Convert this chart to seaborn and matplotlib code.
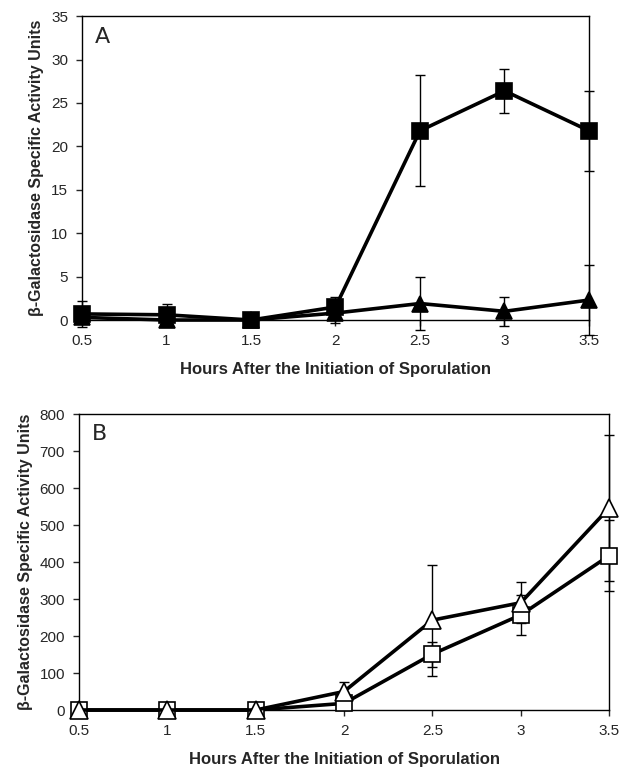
import matplotlib
matplotlib.use("Agg")
import matplotlib.pyplot as plt
import pandas as pd
import seaborn as sns

# hours after initiation of sporulation
hours = [0.5, 1, 1.5, 2, 2.5, 3, 3.5]

# panel A (filled symbols)
a_square = [0.7, 0.6, 0.0, 1.5, 21.8, 26.4, 21.8]
a_square_err = [1.5, 1.2, 0.0, 1.2, 6.4, 2.5, 4.6]
a_triangle = [0.3, 0.0, 0.0, 0.8, 1.9, 1.0, 2.3]
a_triangle_err = [0.0, 0.0, 0.0, 1.2, 3.1, 1.7, 4.0]

# panel B (open symbols)
b_square = [0, 0, 0, 18, 151, 257, 417]
b_square_err = [0, 0, 0, 0, 34, 54, 96]
b_triangle = [0, 0, 0, 50, 243, 290, 546]
b_triangle_err = [0, 0, 0, 27, 150, 56, 196]

x_ticks = [0.5, 1, 1.5, 2, 2.5, 3, 3.5]
x_ticklabels = ["0.5", "1", "1.5", "2", "2.5", "3", "3.5"]
ylabel = "β-Galactosidase Specific Activity Units"
xlabel = "Hours After the Initiation of Sporulation"

sns.set_style("ticks")
plt.rcParams["font.family"] = ["Liberation Sans", "DejaVu Sans"]

fig = plt.figure(figsize=(6.19, 7.70), dpi=100)
ax_a = fig.add_axes([0.1325, 0.5844, 0.819, 0.3946])
ax_b = fig.add_axes([0.1276, 0.0779, 0.8564, 0.3844])


def draw_series(ax, y, err, marker, face, size):
    df = pd.DataFrame({"hours": hours, "value": y})
    ax.errorbar(hours, y, yerr=err, fmt="none", ecolor="black", elinewidth=1.0,
                capsize=3.5, capthick=1.0, clip_on=False, zorder=2)
    sns.lineplot(data=df, x="hours", y="value", ax=ax, color="black", linewidth=2.6,
                 marker=marker, markersize=size, markerfacecolor=face,
                 markeredgecolor="black", markeredgewidth=1.2, clip_on=False,
                 zorder=3)


draw_series(ax_a, a_triangle, a_triangle_err, "^", "black", 12)
draw_series(ax_a, a_square, a_square_err, "s", "black", 12)
draw_series(ax_b, b_square, b_square_err, "s", "white", 12)
draw_series(ax_b, b_triangle, b_triangle_err, "^", "white", 13)

for ax, ymax, step, letter in [(ax_a, 35, 5, "A"), (ax_b, 800, 100, "B")]:
    ax.set_xlim(0.5, 3.5)
    ax.set_ylim(0, ymax)
    ax.set_yticks(range(0, ymax + 1, step))
    ax.set_xticks(x_ticks)
    ax.set_xticklabels(x_ticklabels)
    ax.tick_params(axis="both", labelsize=11, length=4, width=1, direction="out",
                   pad=6)
    for s in ax.spines.values():
        s.set_linewidth(1.0)
        s.set_color("black")
    ax.set_xlabel(xlabel, fontsize=12, fontweight="bold", labelpad=10)
    ax.set_ylabel(ylabel, fontsize=11.5, fontweight="bold", labelpad=5)
    ax.text(0.025, 0.965, letter, transform=ax.transAxes, fontsize=16,
            family="DejaVu Sans", va="top", ha="left")

fig.savefig("out.png", dpi=100)
